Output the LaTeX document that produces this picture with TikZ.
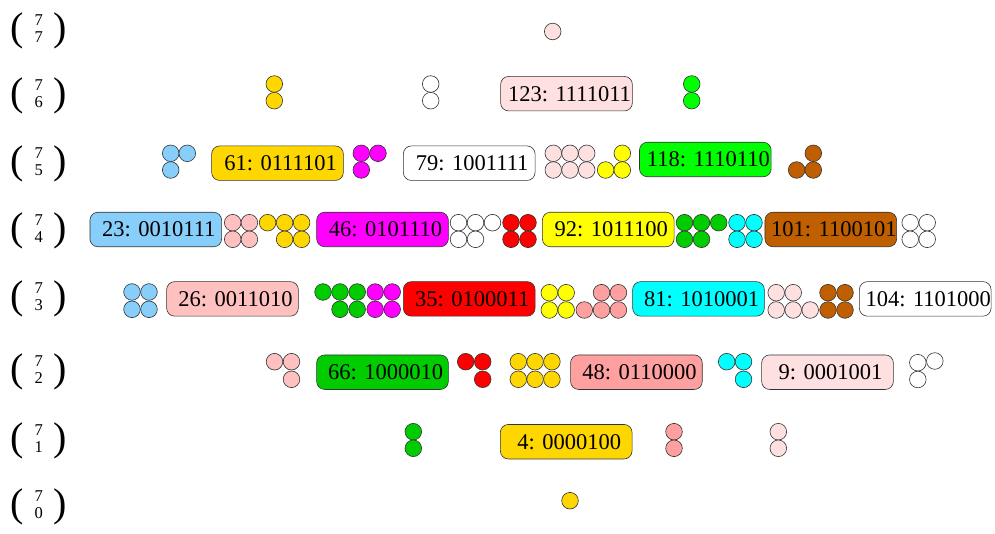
\documentclass[tikz,border=0pt]{standalone}
\usepackage{fontspec}
\setmainfont{Liberation Serif}
\definecolor{mrose}{HTML}{FFE0E0}
\definecolor{goldc}{HTML}{FFD700}
\definecolor{lblue}{HTML}{87CEFA}
\definecolor{magc}{HTML}{FF00FF}
\definecolor{yelc}{HTML}{FFFF00}
\definecolor{brownc}{HTML}{C05F00}
\definecolor{pinkc}{HTML}{FFC0C0}
\definecolor{redc}{HTML}{FF0000}
\definecolor{cyanc}{HTML}{00FFFF}
\definecolor{greend}{HTML}{00CC00}
\definecolor{greenl}{HTML}{00FF00}
\definecolor{salmonc}{HTML}{FFA0A0}
\newcommand{\dt}[4]{\node[dot,fill=#1] (#2) at (#3,#4) {};}
\newcommand{\bx}[5]{\node[codebox,fill=#1] (#2) at (#3,#4) {\hspace*{6pt}#5};}
\newcommand{\bn}[3]{%
  \node[paren] (#1l) at (17,#3) {(};
  \node[paren] (#1r) at (60,#3) {)};
  \node[digit] (#1t) at (38.7,#3-10.5) {7};
  \node[digit] (#1b) at (38.7,#3+6.5) {#2};}
\begin{document}
\begin{tikzpicture}[x=1pt,y=-1pt,
  dot/.style={circle,draw=black!80,minimum size=16.6pt,inner sep=0pt,line width=0.6pt},
  codebox/.style={draw=black!80,rounded corners=8pt,minimum width=131.7pt,minimum height=34.5pt,inner sep=0pt,line width=0.6pt,font=\fontsize{22.5}{27}\selectfont},
  paren/.style={inner sep=0pt,font=\fontsize{40}{40}\selectfont},
  digit/.style={inner sep=0pt,font=\fontsize{16.5}{16.5}\selectfont}]
\useasboundingbox (0,0) rectangle (995,534);
% binomials
\bn{b7}{7}{31}
\bn{b6}{6}{96}
\bn{b5}{5}{164}
\bn{b4}{4}{231}
\bn{b3}{3}{299}
\bn{b2}{2}{372}
\bn{b1}{1}{441}
\bn{b0}{0}{507}
% row 7
\dt{mrose}{r7a}{552.7}{31.5}
% row 6
\dt{goldc}{r6a1}{274.3}{84}
\dt{goldc}{r6a2}{274.3}{100.7}
\dt{white}{r6b1}{430.7}{84}
\dt{white}{r6b2}{430.7}{100.7}
\bx{mrose}{k123}{566.5}{93.7}{123: 1111011}
\dt{greenl}{r6c1}{691.7}{84}
\dt{greenl}{r6c2}{691.7}{100.7}
% row 5
\dt{lblue}{r5a1}{170.7}{153.3}
\dt{lblue}{r5a2}{187.3}{153.3}
\dt{lblue}{r5a3}{170.7}{170}
\bx{goldc}{k61}{277.5}{163.2}{61: 0111101}
\dt{magc}{r5b1}{361.3}{153.3}
\dt{magc}{r5b2}{378}{153.3}
\dt{magc}{r5b3}{361.3}{170}
\bx{white}{k79}{469.2}{163.2}{79: 1001111}
\dt{mrose}{r5c1}{553.3}{153.3}
\dt{mrose}{r5c2}{570}{153.3}
\dt{mrose}{r5c3}{586.7}{153.3}
\dt{mrose}{r5c4}{553.3}{170}
\dt{mrose}{r5c5}{570}{170}
\dt{mrose}{r5c6}{586.7}{170}
\dt{yelc}{r5d1}{622.3}{153.3}
\dt{yelc}{r5d2}{605.6}{170}
\dt{yelc}{r5d3}{622.3}{170}
\bx{greenl}{k118}{705.3}{159.5}{118: 1110110}
\dt{brownc}{r5e1}{813.3}{153.3}
\dt{brownc}{r5e2}{796.6}{170}
\dt{brownc}{r5e3}{813.3}{170}
% row 4
\bx{lblue}{k23}{155.8}{229.5}{23: 0010111}
\dt{pinkc}{r4a1}{232.7}{222.7}
\dt{pinkc}{r4a2}{249.4}{222.7}
\dt{pinkc}{r4a3}{232.7}{239.3}
\dt{pinkc}{r4a4}{249.4}{239.3}
\dt{goldc}{r4b1}{267.6}{222.7}
\dt{goldc}{r4b2}{284.6}{222.7}
\dt{goldc}{r4b3}{301.6}{222.7}
\dt{goldc}{r4b4}{284.6}{239.3}
\dt{goldc}{r4b5}{301.6}{239.3}
\bx{magc}{k46}{382.5}{229.5}{46: 0101110}
\dt{white}{r4c1}{458.5}{222.7}
\dt{white}{r4c2}{475.5}{222.7}
\dt{white}{r4c3}{492.5}{222.7}
\dt{white}{r4c4}{458.5}{239.3}
\dt{white}{r4c5}{475.5}{239.3}
\dt{redc}{r4d1}{511}{222.7}
\dt{redc}{r4d2}{528}{222.7}
\dt{redc}{r4d3}{511}{239.3}
\dt{redc}{r4d4}{528}{239.3}
\bx{yelc}{k92}{608.2}{229.5}{92: 1011100}
\dt{greend}{r4e1}{684.5}{222.7}
\dt{greend}{r4e2}{701.5}{222.7}
\dt{greend}{r4e3}{718.7}{222.7}
\dt{greend}{r4e4}{684.5}{239.3}
\dt{greend}{r4e5}{701.5}{239.3}
\dt{cyanc}{r4f1}{737}{222.7}
\dt{cyanc}{r4f2}{754}{222.7}
\dt{cyanc}{r4f3}{737}{239.3}
\dt{cyanc}{r4f4}{754}{239.3}
\bx{brownc}{k101}{830.8}{229.5}{101: 1100101}
\dt{white}{r4g1}{910.2}{222.7}
\dt{white}{r4g2}{927.2}{222.7}
\dt{white}{r4g3}{910.2}{239.3}
\dt{white}{r4g4}{927.2}{239.3}
% row 3
\dt{lblue}{r3a1}{132}{292}
\dt{lblue}{r3a2}{149}{292}
\dt{lblue}{r3a3}{132}{309.3}
\dt{lblue}{r3a4}{149}{309.3}
\bx{pinkc}{k26}{232.5}{298.9}{26: 0011010}
\dt{greend}{r3b1}{323}{292}
\dt{greend}{r3b2}{340}{292}
\dt{greend}{r3b3}{357.2}{292}
\dt{greend}{r3b4}{340}{309.3}
\dt{greend}{r3b5}{357.2}{309.3}
\dt{magc}{r3c1}{375.2}{292}
\dt{magc}{r3c2}{392.2}{292}
\dt{magc}{r3c3}{375.2}{309.3}
\dt{magc}{r3c4}{392.2}{309.3}
\bx{redc}{k35}{469.2}{298.9}{35: 0100011}
\dt{yelc}{r3d1}{549.3}{292.7}
\dt{yelc}{r3d2}{566.2}{292.7}
\dt{yelc}{r3d3}{549.3}{310}
\dt{yelc}{r3d4}{566.2}{310}
\dt{salmonc}{r3e1}{584.3}{310}
\dt{salmonc}{r3e2}{601.5}{292.7}
\dt{salmonc}{r3e3}{618.4}{292.7}
\dt{salmonc}{r3e4}{601.5}{310}
\dt{salmonc}{r3e5}{618.4}{310}
\bx{cyanc}{k81}{698.5}{298.9}{81: 1010001}
\dt{mrose}{r3f1}{776.2}{292.7}
\dt{mrose}{r3f2}{793.2}{292.7}
\dt{mrose}{r3f3}{776.2}{310}
\dt{mrose}{r3f4}{793.2}{310}
\dt{mrose}{r3f5}{810.2}{310}
\dt{brownc}{r3g1}{828}{292.7}
\dt{brownc}{r3g2}{845}{292.7}
\dt{brownc}{r3g3}{828}{310}
\dt{brownc}{r3g4}{845}{310}
\bx{white}{k104}{925.2}{298.9}{104: 1101000}
% row 2
\dt{pinkc}{r2a1}{274.5}{361.7}
\dt{pinkc}{r2a2}{291.5}{361.7}
\dt{pinkc}{r2a3}{291.5}{379.3}
\bx{greend}{k66}{382.5}{372.2}{66: 1000010}
\dt{redc}{r2b1}{465.7}{361.7}
\dt{redc}{r2b2}{482.7}{361.7}
\dt{redc}{r2b3}{482.7}{379.3}
\dt{goldc}{r2c1}{518.3}{361.7}
\dt{goldc}{r2c2}{535.1}{361.7}
\dt{goldc}{r2c3}{551.9}{361.7}
\dt{goldc}{r2c4}{518.3}{379.3}
\dt{goldc}{r2c5}{535.1}{379.3}
\dt{goldc}{r2c6}{551.9}{379.3}
\bx{salmonc}{k48}{636.4}{372.2}{48: 0110000}
\dt{cyanc}{r2d1}{726.7}{361.7}
\dt{cyanc}{r2d2}{743.5}{361.7}
\dt{cyanc}{r2d3}{743.5}{379.3}
\bx{mrose}{k9}{827.5}{372.2}{9: 0001001}
\dt{white}{r2e1}{917.8}{362.7}
\dt{white}{r2e2}{934.8}{361}
\dt{white}{r2e3}{917.8}{379.5}
% row 1
\dt{greend}{r1a1}{413.3}{431.7}
\dt{greend}{r1a2}{413.3}{448.3}
\bx{goldc}{k4}{566.2}{441.7}{4: 0000100}
\dt{salmonc}{r1b1}{674}{431.7}
\dt{salmonc}{r1b2}{674}{448.3}
\dt{mrose}{r1c1}{778.3}{431.7}
\dt{mrose}{r1c2}{778.3}{448.3}
% row 0
\dt{goldc}{r0a}{570}{500.7}
\end{tikzpicture}
\end{document}
